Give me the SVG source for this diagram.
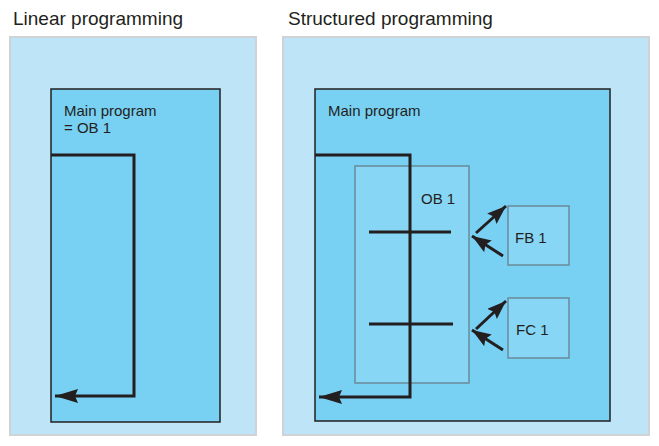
<svg xmlns="http://www.w3.org/2000/svg" width="659" height="446" viewBox="0 0 659 446">
<style>
.panel{fill:#bde5f7;stroke:#d0d3d5;stroke-width:2}
.main{fill:#78d0f3;stroke:#231f20;stroke-width:1.5}
.sub{fill:#87d6f5;stroke:#6a8a99;stroke-width:1.5}
.title{font-family:"Liberation Sans",Arial,sans-serif;font-size:19px;fill:#231f20}
.lbl{font-family:"Liberation Sans",Arial,sans-serif;font-size:15px;fill:#231f20}
.flow{fill:none;stroke:#231f20;stroke-width:3}
.call{fill:none;stroke:#231f20;stroke-width:3}
</style>
<defs>
<marker id="ah" markerUnits="userSpaceOnUse" markerWidth="26" markerHeight="16" refX="23" refY="7" orient="auto">
<path d="M0,0 L23,7 L0,14 L3,7 Z" fill="#231f20"/>
</marker>
<marker id="sh" markerUnits="userSpaceOnUse" markerWidth="22" markerHeight="15" refX="19" refY="7" orient="auto">
<path d="M0,0 L19,7 L0,14 L3,7 Z" fill="#231f20"/>
</marker>
</defs>
<text class="title" x="13" y="25">Linear programming</text>
<text class="title" x="288" y="25">Structured programming</text>
<g id="linear">
<rect class="panel" x="10" y="37" width="246" height="398"/>
<g id="linear-main">
<rect class="main" x="51" y="89" width="169" height="333"/>
<text class="lbl" x="64" y="116">Main program</text>
<text class="lbl" x="64" y="133">= OB 1</text>
</g>
</g>
<g id="structured">
<rect class="panel" x="283" y="37" width="366" height="398"/>
<g id="structured-main">
<rect class="main" x="315" y="89" width="295" height="332"/>
<text class="lbl" x="328" y="116">Main program</text>
</g>
<g id="ob1">
<rect class="sub" x="355" y="166" width="114" height="217"/>
<text class="lbl" x="421" y="204">OB 1</text>
</g>
<g id="fb1">
<rect class="sub" x="508" y="206" width="61" height="59"/>
<text class="lbl" x="515" y="243">FB 1</text>
</g>
<g id="fc1">
<rect class="sub" x="508" y="298" width="61" height="60"/>
<text class="lbl" x="516" y="335">FC 1</text>
</g>
</g>
<g id="connectors">
<path class="flow" d="M51,155 H134 V396 H55" marker-end="url(#ah)"/>
<path class="flow" d="M315,155 H410 V397 H319" marker-end="url(#ah)"/>
<line class="flow" x1="369" y1="232" x2="451" y2="232"/>
<line class="flow" x1="369" y1="324" x2="453" y2="324"/>
<line class="call" x1="476" y1="233" x2="506" y2="206" marker-end="url(#sh)"/>
<line class="call" x1="503" y1="256" x2="472" y2="236" marker-end="url(#sh)"/>
<line class="call" x1="476" y1="329" x2="506" y2="301" marker-end="url(#sh)"/>
<line class="call" x1="503" y1="350" x2="472" y2="330" marker-end="url(#sh)"/>
</g>
</svg>
